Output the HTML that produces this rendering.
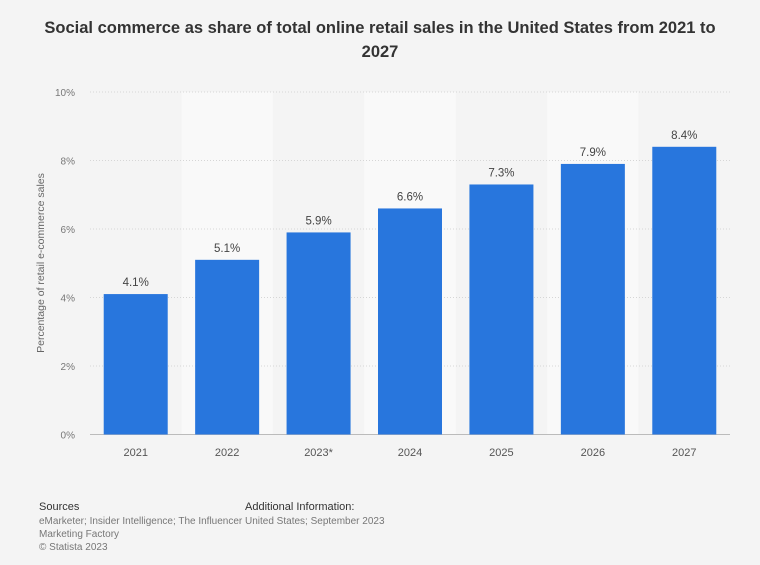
<!DOCTYPE html>
<html><head><meta charset="utf-8"><style>
body{margin:0;background:#f4f4f4;font-family:"Liberation Sans",sans-serif;}
svg{display:block}
</style></head><body>
<svg width="760" height="565" id="c">
<rect width="760" height="565" fill="#f4f4f4"/>
<text x="380" y="33" text-anchor="middle" font-size="16.5" font-weight="bold" fill="#333">Social commerce as share of total online retail sales in the United States from 2021 to</text>
<text x="380" y="57" text-anchor="middle" font-size="16.5" font-weight="bold" fill="#333">2027</text>
<g id="plot"></g>
<text transform="translate(44,263) rotate(-90)" text-anchor="middle" font-size="10.5" fill="#666">Percentage of retail e-commerce sales</text>
<text x="39" y="510" font-size="11" fill="#333">Sources</text>
<text x="39" y="524" font-size="10" fill="#777">eMarketer; Insider Intelligence; The Influencer</text>
<text x="39" y="537" font-size="10" fill="#777">Marketing Factory</text>
<text x="39" y="550" font-size="10" fill="#777">© Statista 2023</text>
<text x="245" y="510" font-size="11" fill="#333">Additional Information:</text>
<text x="245" y="524" font-size="10" fill="#777">United States; September 2023</text>
</svg>
<script>
const categories=["2021","2022","2023*","2024","2025","2026","2027"];
const values=[4.1,5.1,5.9,6.6,7.3,7.9,8.4];
const labels=["4.1%","5.1%","5.9%","6.6%","7.3%","7.9%","8.4%"];
const ticks=[0,2,4,6,8,10];
const NS="http://www.w3.org/2000/svg";
const g=document.getElementById('plot');
const x0=90,x1=730,y0=434.5,yTop=92;
const bw=(x1-x0)/categories.length;
const y=v=>y0-(v/10)*(y0-yTop);
const xc=i=>x0+bw*(i+0.5);
function mk(t,a){const e=document.createElementNS(NS,t);for(const k in a)e.setAttribute(k,a[k]);g.appendChild(e);return e;}
categories.forEach((c,i)=>{if(i%2===1){const r=mk('rect',{x:x0+bw*i,y:yTop,width:bw,height:y0-yTop,fill:'#f9f9f9'});

}});
ticks.forEach(t=>{const l=mk('line',{x1:x0,x2:x1,y1:y(t),y2:y(t),stroke:t===0?'#bbb':'#d6d6d6','stroke-dasharray':t===0?'':'1,2'});


const tx=mk('text',{x:x0-15,y:y(t)+4,'text-anchor':'end','font-size':'10',fill:'#777'});tx.textContent=t+'%';

});
values.forEach((v,i)=>{const r=mk('rect',{x:xc(i)-32,y:y(v),width:64,height:y0-y(v),fill:'#2876dd'});


const t=mk('text',{x:xc(i),y:y(v)-8,'text-anchor':'middle','font-size':'11.5',fill:'#444'});t.textContent=labels[i];


const c=mk('text',{x:xc(i),y:456,'text-anchor':'middle','font-size':'11',fill:'#555'});c.textContent=categories[i];

});
</script>
</body></html>
